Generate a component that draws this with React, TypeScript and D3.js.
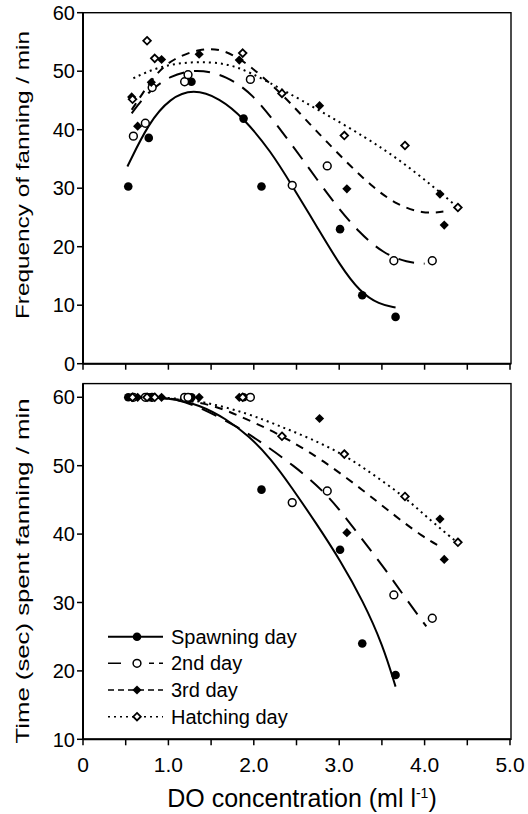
import React from 'react';
import * as d3 from 'd3';

// observations: same nests in both panels, x = DO concentration
const spawnX = [0.53, 0.77, 1.27, 1.88, 2.09, 3.01, 3.27, 3.66];
const spawnFreq = [30.3, 38.6, 48.2, 41.9, 30.3, 23.0, 11.7, 8.0];
const spawnTime = [60, 60, 60, 60, 46.5, 37.7, 24.0, 19.4];

const secondX = [0.59, 0.73, 0.81, 1.19, 1.23, 1.96, 2.45, 2.86, 3.64, 4.09];
const secondFreq = [38.9, 41.1, 47.2, 48.2, 49.4, 48.6, 30.5, 33.8, 17.6, 17.6];
const secondTime = [60, 60, 60, 60, 60, 60, 44.6, 46.3, 31.1, 27.7];

const thirdX = [0.57, 0.64, 0.8, 0.92, 1.36, 1.83, 2.77, 3.09, 4.18, 4.23];
const thirdFreq = [45.6, 40.6, 48.1, 52.0, 52.9, 51.9, 44.1, 29.9, 29.0, 23.7];
const thirdTime = [60, 60, 60, 60, 60, 60, 56.9, 40.2, 42.2, 36.3];

const hatchX = [0.58, 0.75, 0.84, 1.87, 2.33, 3.06, 3.77, 4.39];
const hatchFreq = [45.2, 55.2, 52.2, 53.1, 46.2, 39.0, 37.3, 26.7];
const hatchTime = [60, 60, 60, 60, 54.3, 51.7, 45.5, 38.8];

// fitted curves
const spawnFitTop = [[0.52, 33.7], [0.77, 41.2], [1.02, 45.4], [1.29, 47.0], [1.6, 45.4], [1.88, 42.0], [2.2, 36.3], [2.45, 30.4], [2.74, 23.4], [3.01, 16.8], [3.24, 12.3], [3.47, 10.1], [3.66, 9.6]];
const secondFitTop = [[0.57, 42.8], [0.75, 46.3], [1.02, 49.3], [1.33, 50.4], [1.68, 49.3], [2.0, 45.9], [2.26, 41.0], [2.54, 35.6], [2.93, 27.6], [3.24, 22.3], [3.52, 18.8], [3.8, 17.3], [4.0, 17.1]];
const thirdFitTop = [[0.57, 43.4], [0.67, 45.6], [0.86, 49.7], [1.05, 52.1], [1.37, 53.9], [1.64, 53.8], [1.92, 51.4], [2.23, 47.4], [2.42, 44.7], [2.66, 40.9], [2.85, 38.0], [3.13, 33.8], [3.4, 30.1], [3.67, 27.2], [3.98, 25.6], [4.22, 26.0]];
const hatchFitTop = [[0.59, 48.8], [0.9, 50.9], [1.29, 51.7], [1.68, 51.4], [1.96, 49.8], [2.33, 46.9], [2.78, 43.2], [3.32, 38.6], [3.71, 34.8], [4.1, 30.3], [4.39, 26.7]];

const spawnFitBot = [[0.5, 60], [1.0, 60], [1.37, 58.9], [1.68, 56.8], [1.94, 54.4], [2.2, 51.0], [2.44, 46.9], [2.74, 41.4], [3.01, 36.2], [3.28, 30.2], [3.51, 23.8], [3.66, 17.7]];
const secondFitBot = [[0.5, 60], [1.0, 60], [1.3, 59.0], [1.84, 55.5], [2.11, 53.2], [2.46, 50.1], [2.83, 46.2], [3.09, 42.2], [3.32, 38.4], [3.56, 34.5], [3.79, 30.4], [4.02, 26.5]];
const thirdFitBot = [[0.5, 60], [1.0, 60], [1.53, 58.9], [1.84, 57.2], [2.15, 55.5], [2.42, 53.7], [2.81, 50.8], [3.28, 46.4], [3.67, 42.5], [3.98, 39.6], [4.18, 38.2]];
const hatchFitBot = [[0.5, 60], [1.0, 60], [1.41, 59.4], [1.92, 57.7], [2.3, 55.8], [2.66, 54.0], [3.06, 51.6], [3.4, 48.7], [3.76, 45.5], [4.06, 42.1], [4.38, 38.8]];

const legendLabels = ['Spawning day', '2nd day', '3rd day', 'Hatching day'];
const xTicks = [0, 0.5, 1, 1.5, 2, 2.5, 3, 3.5, 4, 4.5, 5];
const xTickLabels = ['0', '1.0', '2.0', '3.0', '4.0', '5.0'];
const topYTicks = [0, 10, 20, 30, 40, 50, 60];
const botYTicks = [10, 20, 30, 40, 50, 60];

const FONT = 'Liberation Sans, Arial, Helvetica, sans-serif';

const x = d3.scaleLinear().domain([0, 5]).range([83, 510]);
const yTop = d3.scaleLinear().domain([0, 60]).range([363.7, 12.7]);
const yBot = d3.scaleLinear().domain([10, 62]).range([739.3, 383.6]);

const styles = [
  { marker: 'circle', fill: '#000', dash: 'none' },
  { marker: 'circle', fill: '#fff', dash: '16,10' },
  { marker: 'diamond', fill: '#000', dash: '8,7' },
  { marker: 'diamond', fill: '#fff', dash: '2,4' },
];

const Marker = ({ cx, cy, kind }: { cx: number; cy: number; kind: number }) => {
  const s = styles[kind];
  if (s.marker === 'circle') {
    return s.fill === '#000'
      ? <circle cx={cx} cy={cy} r={4.3} fill="#000" />
      : <circle cx={cx} cy={cy} r={3.9} fill="#fff" stroke="#000" strokeWidth={1.5} />;
  }
  const r = s.fill === '#000' ? 4.6 : 3.8;
  const d = `M${cx},${cy - r}L${cx + r},${cy}L${cx},${cy + r}L${cx - r},${cy}Z`;
  return s.fill === '#000'
    ? <path d={d} fill="#000" />
    : <path d={d} fill="#fff" stroke="#000" strokeWidth={1.8} />;
};

const Panel = ({ y, yTicks, xs, ys, fits, top, bottom }: any) => {
  const line = d3
    .line<number[]>()
    .x((d) => x(d[0]))
    .y((d) => y(d[1]))
    .curve(d3.curveBasis);
  return (
    <g>
      <rect x={83} y={top} width={428} height={bottom - top} fill="none" stroke="#000" strokeWidth={1.4} />
      <line x1={83} x2={83} y1={top} y2={bottom} stroke="#000" strokeWidth={2} />
      <line x1={83} x2={511} y1={bottom} y2={bottom} stroke="#000" strokeWidth={2} />
      {xTicks.map((t) => (
        <line key={t} x1={x(t)} x2={x(t)} y1={bottom} y2={bottom + 6} stroke="#000" strokeWidth={1.5} />
      ))}
      {yTicks.map((t: number) => (
        <g key={t}>
          <line x1={77} x2={83} y1={y(t)} y2={y(t)} stroke="#000" strokeWidth={1.5} />
          <text x={75} y={y(t)} dy="0.36em" textAnchor="end" fontSize={20} fontFamily={FONT}>{t}</text>
        </g>
      ))}
      {fits.map((f: number[][], i: number) => (
        <path key={i} d={line(f) || ''} fill="none" stroke="#000" strokeWidth={2}
          strokeDasharray={styles[i].dash} />
      ))}
      {xs.map((arr: number[], i: number) =>
        arr.map((v, j) => <Marker key={`${i}-${j}`} cx={x(v)} cy={y(ys[i][j])} kind={i} />)
      )}
    </g>
  );
};

const App = () => {
  const xs = [spawnX, secondX, thirdX, hatchX];
  const legendY = [636.7, 663.3, 690, 716.7];
  return (
    <svg width={528} height={814} style={{ position: 'absolute', left: 0, top: 0, background: '#fff' }}>
      <rect width={528} height={814} fill="#fff" />
      <Panel y={yTop} yTicks={topYTicks} xs={xs} ys={[spawnFreq, secondFreq, thirdFreq, hatchFreq]}
        fits={[spawnFitTop, secondFitTop, thirdFitTop, hatchFitTop]} top={12.7} bottom={363.7} />
      <Panel y={yBot} yTicks={botYTicks} xs={xs} ys={[spawnTime, secondTime, thirdTime, hatchTime]}
        fits={[spawnFitBot, secondFitBot, thirdFitBot, hatchFitBot]} top={383.6} bottom={739.3} />

      {legendLabels.map((lab, i) => (
        <g key={lab}>
          <line x1={108} x2={163} y1={legendY[i]} y2={legendY[i]} stroke="#000" strokeWidth={i === 0 ? 2 : 1.6}
            strokeDasharray={i === 1 ? '13,6,0,22,5,5,5,5' : i === 2 ? '6,4' : styles[i].dash} />
          <Marker cx={137} cy={legendY[i]} kind={i} />
          <text x={171} y={legendY[i] + 7} fontSize={20} fontFamily={FONT}>{lab}</text>
        </g>
      ))}

      {xTickLabels.map((lab, i) => (
        <text key={lab} x={x(i)} y={771.5} textAnchor="middle" fontSize={21} fontFamily={FONT}>{lab}</text>
      ))}
      <text x={302} y={807} textAnchor="middle" fontSize={25} fontFamily={FONT}>
        DO concentration (ml l<tspan fontSize={14} dy={-9}>-1</tspan><tspan dy={9}>)</tspan>
      </text>

      <text transform="translate(29,175) rotate(-90)" textAnchor="middle" fontSize={19} fontFamily={FONT}
        textLength={288} lengthAdjust="spacingAndGlyphs">Frequency of fanning / min</text>
      <text transform="translate(29,571) rotate(-90)" textAnchor="middle" fontSize={19} fontFamily={FONT}
        textLength={345} lengthAdjust="spacingAndGlyphs">Time (sec) spent fanning / min</text>
    </svg>
  );
};

export default App;
